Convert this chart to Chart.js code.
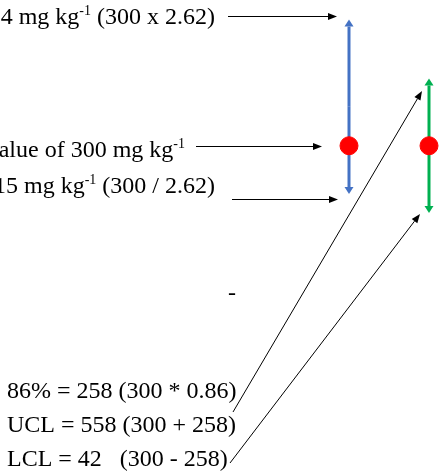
<!DOCTYPE html>
<html>
<head>
<meta charset="utf-8">
<script src="https://cdn.jsdelivr.net/npm/chart.js@4"></script>
<style>
html, body { margin: 0; padding: 0; background: #fff; overflow: hidden; }
canvas { display: block; }
</style>
</head>
<body>
<canvas id="myChart" width="445" height="473"></canvas>
<script>
// data (mg kg-1), as printed on the figure
const categories = ['x / 2.62 range', '86% range'];
const meanValues = [300, 300];
const upperValues = [784, 558];
const lowerValues = [115, 42];
const barColors = ['#4472C4', '#00B050'];

const FONT = '"Liberation Serif", "Times New Roman", serif';

// filled arrow from (x1,y1) to tip (x2,y2)
var drawArrow = function(ctx, x1, y1, x2, y2, color, width, headLen, headW) {
    let ang = Math.atan2(y2 - y1, x2 - x1);
    let bx = x2 - Math.cos(ang) * headLen;
    let by = y2 - Math.sin(ang) * headLen;
    ctx.strokeStyle = color;
    ctx.fillStyle = color;
    ctx.lineWidth = width;
    ctx.beginPath();
    ctx.moveTo(x1, y1);
    ctx.lineTo(bx, by);
    ctx.stroke();
    ctx.beginPath();
    ctx.moveTo(x2, y2);
    ctx.lineTo(bx + Math.sin(ang) * headW / 2, by - Math.cos(ang) * headW / 2);
    ctx.lineTo(bx - Math.sin(ang) * headW / 2, by + Math.cos(ang) * headW / 2);
    ctx.closePath();
    ctx.fill();
}

// text made of normal and superscript parts
var drawParts = function(ctx, parts, x, y, align) {
    let total = 0;
    parts.forEach(function(p) {
        ctx.font = p.sup ? '14px ' + FONT : '24px ' + FONT;
        total += ctx.measureText(p.t).width;
    });
    let cx = align === 'right' ? x - total : x;
    ctx.textAlign = 'left';
    ctx.textBaseline = 'alphabetic';
    ctx.fillStyle = '#000';
    parts.forEach(function(p) {
        ctx.font = p.sup ? '14px ' + FONT : '24px ' + FONT;
        ctx.fillText(p.t, cx, p.sup ? y - 9 : y);
        cx += ctx.measureText(p.t).width;
    });
}

const rangeBars = {
    id: 'rangeBars',
    beforeDatasetsDraw(chart) {
        const ctx = chart.ctx;
        const xs = chart.scales.x, ys = chart.scales.y;
        ctx.save();
        categories.forEach(function(c, i) {
            let x = xs.getPixelForValue(i + 1);
            let top = ys.getPixelForValue(upperValues[i]);
            let bot = ys.getPixelForValue(lowerValues[i]);
            let mid = (top + bot) / 2;
            drawArrow(ctx, x, mid, x, top, barColors[i], 3, 7, 9);
            drawArrow(ctx, x, mid, x, bot, barColors[i], 3, 7, 9);
        });
        ctx.restore();
    }
};

const notes = {
    id: 'notes',
    afterDraw(chart) {
        const ctx = chart.ctx;
        ctx.save();
        drawParts(ctx, [{t: upperValues[0] + ' mg kg'}, {t: '-1', sup: true}, {t: ' (300 x 2.62)'}], 215, 24, 'right');
        drawParts(ctx, [{t: 'Mean value of ' + meanValues[0] + ' mg kg'}, {t: '-1', sup: true}], 185, 157, 'right');
        drawParts(ctx, [{t: lowerValues[0] + ' mg kg'}, {t: '-1', sup: true}, {t: ' (300 / 2.62)'}], 215, 193, 'right');
        drawParts(ctx, [{t: '86% = 258 (300 * 0.86)'}], 7, 398, 'left');
        drawParts(ctx, [{t: 'UCL = ' + upperValues[1] + ' (300 + 258)'}], 7, 432, 'left');
        drawParts(ctx, [{t: 'LCL = ' + lowerValues[1] + '   (300 - 258)'}], 7, 466, 'left');
        drawParts(ctx, [{t: '-'}], 228, 300, 'left');

        drawArrow(ctx, 228, 16.5, 337, 16.5, '#000', 1, 9, 7);
        drawArrow(ctx, 196, 146.5, 322, 146.5, '#000', 1, 9, 7);
        drawArrow(ctx, 232, 199.5, 338, 199.5, '#000', 1, 9, 7);
        drawArrow(ctx, 233, 412, 422, 91, '#000', 1, 9, 7);
        drawArrow(ctx, 230, 463, 420, 214, '#000', 1, 9, 7);
        ctx.restore();
    }
};

const data = {
    datasets: [{
        label: 'mean',
        data: categories.map(function(c, i) { return {x: i + 1, y: meanValues[i]}; }),
        backgroundColor: '#FF0000',
        borderColor: '#FF0000',
        pointRadius: 9,
        pointHoverRadius: 9
    }]
};

const config = {
    type: 'scatter',
    data: data,
    options: {
        responsive: false,
        animation: false,
        devicePixelRatio: 1,
        layout: { padding: 0, autoPadding: false },
        plugins: {
            legend: { display: false },
            tooltip: { enabled: false }
        },
        scales: {
            x: { display: false, min: -3.3625, max: 2.2 },
            y: { display: false, min: -955, max: 859 }
        }
    },
    plugins: [rangeBars, notes]
};

var myChart = new Chart(document.getElementById('myChart'), config);
</script>
</body>
</html>
